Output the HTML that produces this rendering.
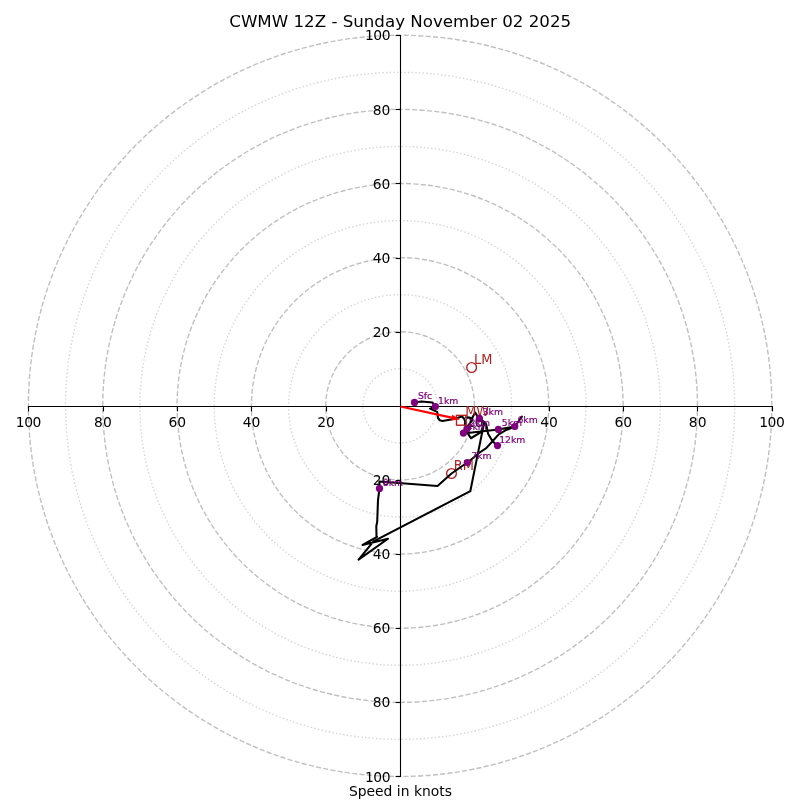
<!DOCTYPE html>
<html lang="en"><head><meta charset="utf-8"><title>CWMW 12Z Hodograph</title>
<style>html,body{margin:0;padding:0;background:#fff;}body{width:800px;height:800px;overflow:hidden;}svg{display:block;}text{font-family:"DejaVu Sans", "Liberation Sans", sans-serif;}</style>
</head><body>
<svg width="800" height="800" viewBox="0 0 800 800">
<rect width="800" height="800" fill="#ffffff"/>
<g fill="none" stroke="#c0c0c0" stroke-width="1.389">
<path d="M437.270 405.850 A37.170 37.060 0 0 0 400.100 368.790 A37.170 37.060 0 0 0 362.930 405.850 A37.170 37.060 0 0 0 400.100 442.910 A37.170 37.060 0 0 0 437.270 405.850" stroke-dasharray="1.39 2.29" stroke="#d4d4d4"/>
<path d="M474.440 405.850 A74.340 74.120 0 0 0 400.100 331.730 A74.340 74.120 0 0 0 325.760 405.850 A74.340 74.120 0 0 0 400.100 479.970 A74.340 74.120 0 0 0 474.440 405.850" stroke-dasharray="5.14 2.22"/>
<path d="M511.610 405.850 A111.510 111.180 0 0 0 400.100 294.670 A111.510 111.180 0 0 0 288.590 405.850 A111.510 111.180 0 0 0 400.100 517.030 A111.510 111.180 0 0 0 511.610 405.850" stroke-dasharray="1.39 2.29" stroke="#d4d4d4"/>
<path d="M548.780 405.850 A148.680 148.240 0 0 0 400.100 257.610 A148.680 148.240 0 0 0 251.420 405.850 A148.680 148.240 0 0 0 400.100 554.090 A148.680 148.240 0 0 0 548.780 405.850" stroke-dasharray="5.14 2.22"/>
<path d="M585.950 405.850 A185.850 185.300 0 0 0 400.100 220.550 A185.850 185.300 0 0 0 214.250 405.850 A185.850 185.300 0 0 0 400.100 591.150 A185.850 185.300 0 0 0 585.950 405.850" stroke-dasharray="1.39 2.29" stroke="#d4d4d4"/>
<path d="M623.120 405.850 A223.020 222.360 0 0 0 400.100 183.490 A223.020 222.360 0 0 0 177.080 405.850 A223.020 222.360 0 0 0 400.100 628.210 A223.020 222.360 0 0 0 623.120 405.850" stroke-dasharray="5.14 2.22"/>
<path d="M660.290 405.850 A260.190 259.420 0 0 0 400.100 146.430 A260.190 259.420 0 0 0 139.910 405.850 A260.190 259.420 0 0 0 400.100 665.270 A260.190 259.420 0 0 0 660.290 405.850" stroke-dasharray="1.39 2.29" stroke="#d4d4d4"/>
<path d="M697.460 405.850 A297.360 296.480 0 0 0 400.100 109.370 A297.360 296.480 0 0 0 102.740 405.850 A297.360 296.480 0 0 0 400.100 702.330 A297.360 296.480 0 0 0 697.460 405.850" stroke-dasharray="5.14 2.22"/>
<path d="M734.630 405.850 A334.530 333.540 0 0 0 400.100 72.310 A334.530 333.540 0 0 0 65.570 405.850 A334.530 333.540 0 0 0 400.100 739.390 A334.530 333.540 0 0 0 734.630 405.850" stroke-dasharray="1.39 2.29" stroke="#d4d4d4"/>
<path d="M771.800 405.850 A371.700 370.600 0 0 0 400.100 35.250 A371.700 370.600 0 0 0 28.400 405.850 A371.700 370.600 0 0 0 400.100 776.450 A371.700 370.600 0 0 0 771.800 405.850" stroke-dasharray="5.14 2.22"/>
</g>
<g fill="none" stroke="#b22222" stroke-width="1.39">
<circle cx="471.6" cy="367.5" r="4.86"/>
<circle cx="451.5" cy="473.5" r="4.86"/>
</g>
<g font-size="13.50px" fill="#b22222">
<text transform="translate(474.0 363.8) scale(0.96 1)">LM</text>
<text transform="translate(453.8 469.6) scale(0.96 1)">RM</text>
</g>
<polyline fill="none" stroke="#000" stroke-width="2.05" stroke-linejoin="round" stroke-linecap="square" points="414.50,402.40 421.50,401.40 432.50,402.60 435.40,406.50 430.00,408.60 437.20,411.90 438.00,418.00 439.75,420.25 442.50,421.00 451.00,419.50 458.00,417.75 462.00,416.50 464.00,418.50 465.25,422.00 464.80,424.60 466.90,429.10 468.00,425.70 470.30,423.00 471.00,420.00 475.20,412.50 477.00,415.60 479.40,418.40 484.40,422.00 481.00,432.10 470.90,438.25 468.00,433.60 463.40,433.10 467.50,433.00 498.40,429.40 514.75,426.50 521.90,416.60 514.75,426.50 505.00,430.60 498.75,434.40 492.50,441.25 486.25,448.10 479.00,453.00 475.00,456.50 467.30,462.50 451.50,473.50 437.50,486.00 379.40,481.50 379.50,488.40 378.00,500.00 377.20,522.00 376.30,526.00 376.50,536.50 377.00,536.90 362.60,545.00 388.00,538.75 358.60,559.70 373.50,541.30 470.30,491.20 478.20,451.90 481.90,433.75 484.40,421.90 486.25,424.40 488.10,433.75 492.50,441.25 497.50,445.60"/>
<polyline fill="none" stroke="#000" stroke-width="2.05" stroke-linejoin="round" stroke-linecap="square" points="466.30,417.30 469.80,417.60 471.00,420.00"/>
<g stroke="#000" stroke-width="1.11" fill="none" stroke-linecap="square">
<line x1="28.5" y1="406.5" x2="772.5" y2="406.5"/>
<line x1="400.5" y1="35.5" x2="400.5" y2="776.5"/>
</g>
<g stroke="#000" stroke-width="1.11" fill="none">
<line x1="28.5" y1="406.5" x2="28.5" y2="411.36"/>
<line x1="395.64" y1="776.5" x2="400.5" y2="776.5"/>
<line x1="103.5" y1="406.5" x2="103.5" y2="411.36"/>
<line x1="395.64" y1="702.5" x2="400.5" y2="702.5"/>
<line x1="177.5" y1="406.5" x2="177.5" y2="411.36"/>
<line x1="395.64" y1="628.5" x2="400.5" y2="628.5"/>
<line x1="251.5" y1="406.5" x2="251.5" y2="411.36"/>
<line x1="395.64" y1="554.5" x2="400.5" y2="554.5"/>
<line x1="326.5" y1="406.5" x2="326.5" y2="411.36"/>
<line x1="395.64" y1="480.5" x2="400.5" y2="480.5"/>
<line x1="474.5" y1="406.5" x2="474.5" y2="411.36"/>
<line x1="395.64" y1="332.5" x2="400.5" y2="332.5"/>
<line x1="549.5" y1="406.5" x2="549.5" y2="411.36"/>
<line x1="395.64" y1="258.5" x2="400.5" y2="258.5"/>
<line x1="623.5" y1="406.5" x2="623.5" y2="411.36"/>
<line x1="395.64" y1="183.5" x2="400.5" y2="183.5"/>
<line x1="697.5" y1="406.5" x2="697.5" y2="411.36"/>
<line x1="395.64" y1="109.5" x2="400.5" y2="109.5"/>
<line x1="772.5" y1="406.5" x2="772.5" y2="411.36"/>
<line x1="395.64" y1="35.5" x2="400.5" y2="35.5"/>
</g>
<g font-size="13.89px" fill="#000">
<text x="28.40" y="427.2" text-anchor="middle" letter-spacing="-0.45">100</text>
<text x="390.10" y="781.60" text-anchor="end" letter-spacing="-0.45">100</text>
<text x="102.94" y="427.2" text-anchor="middle">80</text>
<text x="390.40" y="707.48" text-anchor="end">80</text>
<text x="177.28" y="427.2" text-anchor="middle">60</text>
<text x="390.40" y="633.36" text-anchor="end">60</text>
<text x="251.62" y="427.2" text-anchor="middle">40</text>
<text x="390.40" y="559.24" text-anchor="end">40</text>
<text x="325.96" y="427.2" text-anchor="middle">20</text>
<text x="390.40" y="485.12" text-anchor="end">20</text>
<text x="474.64" y="427.2" text-anchor="middle">20</text>
<text x="390.40" y="336.88" text-anchor="end">20</text>
<text x="548.98" y="427.2" text-anchor="middle">40</text>
<text x="390.40" y="262.76" text-anchor="end">40</text>
<text x="623.32" y="427.2" text-anchor="middle">60</text>
<text x="390.40" y="188.64" text-anchor="end">60</text>
<text x="697.66" y="427.2" text-anchor="middle">80</text>
<text x="390.40" y="114.52" text-anchor="end">80</text>
<text x="771.80" y="427.2" text-anchor="middle" letter-spacing="-0.45">100</text>
<text x="390.10" y="40.40" text-anchor="end" letter-spacing="-0.45">100</text>
</g>
<line x1="400.50" y1="406.50" x2="452.67" y2="417.79" stroke="#ff0000" stroke-width="2.25"/>
<polygon fill="#ff0000" points="460.10,419.40 451.08,420.42 452.31,414.75"/>
<rect x="456.5" y="415.35" width="9.75" height="9.85" fill="none" stroke="#b22222" stroke-width="1.39"/>
<text transform="translate(465.3 415.5) scale(0.95 1)" font-size="13.50px" fill="#b22222">MW</text>
<g fill="#800080">
<circle cx="414.50" cy="402.40" r="3.6"/>
<circle cx="435.40" cy="406.50" r="3.6"/>
<circle cx="466.90" cy="429.10" r="3.6"/>
<circle cx="479.40" cy="418.40" r="3.6"/>
<circle cx="463.40" cy="433.10" r="3.6"/>
<circle cx="498.40" cy="429.40" r="3.6"/>
<circle cx="514.75" cy="426.50" r="3.6"/>
<circle cx="467.30" cy="462.50" r="3.6"/>
<circle cx="379.50" cy="488.40" r="3.6"/>
<circle cx="497.50" cy="445.60" r="3.6"/>
</g>
<g font-size="9.25px" fill="#800080" stroke="#800080" stroke-width="0.2">
<text x="417.89" y="398.50">Sfc</text>
<text x="438.08" y="403.75">1km</text>
<text x="469.82" y="425.50">2km</text>
<text x="482.70" y="415.00">3km</text>
<text x="466.55" y="429.50">4km</text>
<text x="501.80" y="425.50">5km</text>
<text x="517.49" y="422.60">6km</text>
<text x="471.24" y="458.60">7km</text>
<text x="382.77" y="485.60">8km</text>
<text x="499.23" y="442.75">12km</text>
</g>
<text x="400.2" y="26.9" font-size="16.67px" text-anchor="middle" fill="#000">CWMW 12Z - Sunday November 02 2025</text>
<text x="400.4" y="795.8" font-size="13.89px" text-anchor="middle" fill="#000">Speed in knots</text>
</svg></body></html>
